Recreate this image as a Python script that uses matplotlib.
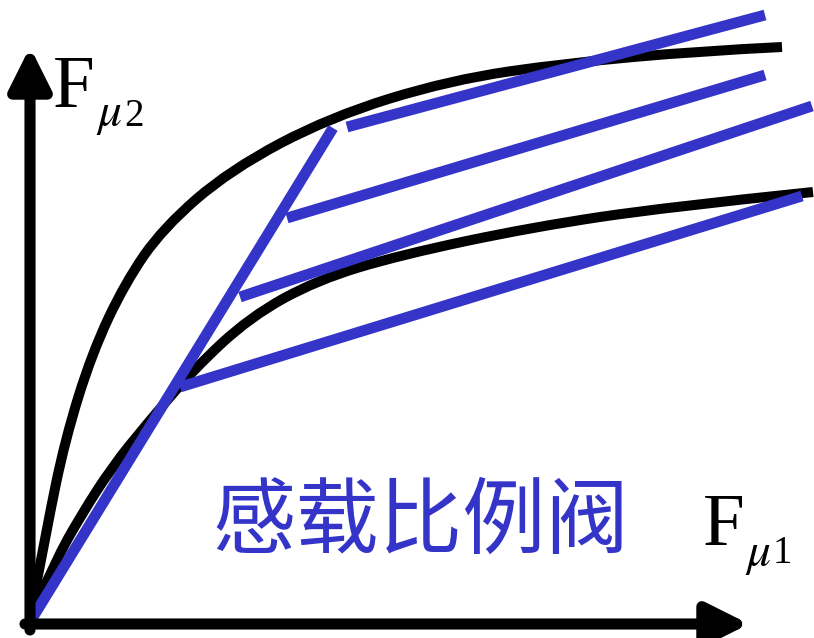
import matplotlib
matplotlib.use("Agg")
import matplotlib.pyplot as plt
from matplotlib.path import Path
from matplotlib.patches import PathPatch

# ---- data (image-space units, y grows downward) ----
upper_x = [30, 47, 65, 92, 125, 163, 230, 330, 450, 567, 700, 782]
upper_y = [618, 527, 440, 353, 283, 228, 170, 117, 80, 63, 51, 47]
lower_x = [30, 56, 80, 112, 146, 193, 250, 317, 400, 533, 667, 813]
lower_y = [618, 560, 517, 467, 425, 370, 317, 280, 255, 227, 207, 192]

diag_x = [30, 333]
diag_y = [622, 128]
branch_start_x = [347, 287, 240, 180]
branch_start_y = [127, 218, 297, 387]
branch_end_x = [765, 765, 812, 802]
branch_end_y = [15, 75, 106, 196]

title_text = "感载比例阀"
BLUE = "#3434C8"

fig = plt.figure(figsize=(8.14, 6.38), dpi=100)
ax = fig.add_axes([0, 0, 1, 1])
ax.set_xlim(0, 814)
ax.set_ylim(638, 0)
ax.axis("off")


def smooth_path(xs, ys):
    pts = list(zip(xs, ys))
    n = len(pts)
    verts = [pts[0]]
    codes = [Path.MOVETO]
    for i in range(1, n - 2):
        mid = ((pts[i][0] + pts[i + 1][0]) / 2, (pts[i][1] + pts[i + 1][1]) / 2)
        verts += [pts[i], mid]
        codes += [Path.CURVE3, Path.CURVE3]
    verts += [pts[n - 2], pts[n - 1]]
    codes += [Path.CURVE3, Path.CURVE3]
    return Path(verts, codes)


# axes arrows
arrow_kw = dict(arrowstyle="-|>,head_length=25,head_width=12.5", lw=8, color="black",
                shrinkA=0, shrinkB=0, mutation_scale=1)
ax.annotate("", xy=(30, 47), xytext=(30, 630), arrowprops=arrow_kw)
ax.annotate("", xy=(749, 624), xytext=(25, 624), arrowprops=arrow_kw)

# black curves
for xs, ys in [(upper_x, upper_y), (lower_x, lower_y)]:
    ax.add_patch(PathPatch(smooth_path(xs, ys), fill=False, edgecolor="black",
                           lw=7.2, joinstyle="round", capstyle="butt"))

# blue lines
ax.plot(diag_x, diag_y, color=BLUE, lw=7.8, solid_capstyle="butt")
for sx, sy, ex, ey in zip(branch_start_x, branch_start_y, branch_end_x, branch_end_y):
    ax.plot([sx, ex], [sy, ey], color=BLUE, lw=7.8, solid_capstyle="butt")

# labels
serif = ["Liberation Serif", "DejaVu Serif"]
ax.text(53, 107, "F", fontsize=54, family=serif, ha="left", va="baseline")
ax.text(96, 125, r"$\mu$", fontsize=34, math_fontfamily="stix", ha="left", va="baseline")
ax.text(124, 126, "2", fontsize=28, family=serif, ha="left", va="baseline")

ax.text(703, 545, "F", fontsize=54, family=serif, ha="left", va="baseline")
ax.text(745, 565, r"$\mu$", fontsize=34, math_fontfamily="stix", ha="left", va="baseline")
ax.text(773, 563, "1", fontsize=28, family=serif, ha="left", va="baseline")

ax.text(421, 522, title_text, fontsize=60, color=BLUE,
        family=["Noto Sans CJK SC", "DejaVu Sans"], ha="center", va="center")

fig.savefig("out.png", dpi=100)
